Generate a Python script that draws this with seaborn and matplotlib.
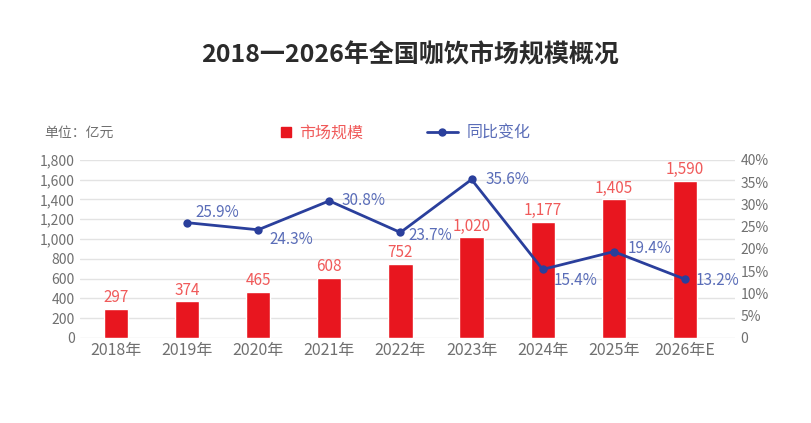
import matplotlib
matplotlib.use("Agg")
import matplotlib.pyplot as plt
import seaborn as sns
from matplotlib.lines import Line2D

years = ["2018年", "2019年", "2020年", "2021年", "2022年", "2023年", "2024年", "2025年", "2026年E"]
market_size = [297, 374, 465, 608, 752, 1020, 1177, 1405, 1590]
growth_years = ["2019年", "2020年", "2021年", "2022年", "2023年", "2024年", "2025年", "2026年E"]
growth_pct = [25.9, 24.3, 30.8, 23.7, 35.6, 15.4, 19.4, 13.2]

bar_color = "#e8161f"
bar_text = "#f05a5a"
line_color = "#2a3f9c"
line_text = "#5a6db8"
tick_color = "#707070"

sns.set_style("white")
plt.rcParams["font.family"] = ["Noto Sans CJK SC", "DejaVu Sans"]

fig = plt.figure(figsize=(8.11, 4.23), dpi=100)
ax = fig.add_axes([0.099, 0.201, 0.807, 0.421])

sns.barplot(x=years, y=market_size, color=bar_color, width=0.34, ax=ax, saturation=1)
ax.set_ylim(0, 1800)
ax.set_xlim(-0.5, 8.7)
ax.set_yticks(range(0, 1801, 200))
ax.set_yticklabels([f"{v:,}" for v in range(0, 1801, 200)])
ax.yaxis.grid(True, color="#e3e3e3", linewidth=1)
ax.set_axisbelow(True)
for s in ax.spines.values():
    s.set_visible(False)
ax.tick_params(axis="y", length=0, labelsize=10, colors=tick_color, pad=4)
ax.tick_params(axis="x", length=0, labelsize=11.5, colors=tick_color, pad=3)
ax.set_xlabel("")
ax.set_ylabel("")
for i, v in enumerate(market_size):
    ax.text(i, v + 25, f"{v:,}", ha="center", va="bottom", fontsize=11, color=bar_text)

ax2 = ax.twinx()
gx = [years.index(y) for y in growth_years]
sns.lineplot(x=gx, y=growth_pct, ax=ax2, color=line_color, linewidth=2,
             marker="o", markersize=6, markeredgewidth=0)
ax2.set_ylim(0, 40)
ax2.set_yticks(range(0, 41, 5))
ax2.set_yticklabels(["0"] + [f"{v}%" for v in range(5, 41, 5)])
for s in ax2.spines.values():
    s.set_visible(False)
ax2.tick_params(axis="y", length=0, labelsize=10, colors=tick_color, pad=4)
ax2.grid(False)

# label offsets in points (dx, dy) relative to each marker
offsets = [(6, 7), (8, -7), (9, 0), (6, -2), (10, 0), (8, -8), (10, 2), (8, -1)]
for x, v, (dx, dy) in zip(gx, growth_pct, offsets):
    ax2.annotate(f"{v}%", (x, v), xytext=(dx, dy), textcoords="offset points",
                 ha="left", va="center", fontsize=11, color=line_text)

fig.text(0.505, 0.87, "2018一2026年全国咖饮市场规模概况", ha="center", va="center",
         fontsize=18, fontweight="bold", color="#2b2b2b")
fig.text(0.055, 0.686, "单位：亿元", ha="left", va="center", fontsize=10, color=tick_color)

bar_handle = Line2D([0], [0], color=bar_color, marker="s", markersize=7, linestyle="none")
leg1 = fig.legend([bar_handle], ["市场规模"], loc="center", bbox_to_anchor=(0.396, 0.686),
                  frameon=False, fontsize=11.5, handlelength=0.8, handletextpad=0.4)
leg1.get_texts()[0].set_color(bar_text)

line_handle = Line2D([0], [0], color=line_color, linewidth=2, marker="o", markersize=5)
leg2 = fig.legend([line_handle], ["同比变化"], loc="center", bbox_to_anchor=(0.59, 0.686),
                  frameon=False, fontsize=11.5, handlelength=2.0, handletextpad=0.5)
leg2.get_texts()[0].set_color(line_text)

fig.savefig("out.png", dpi=100)
